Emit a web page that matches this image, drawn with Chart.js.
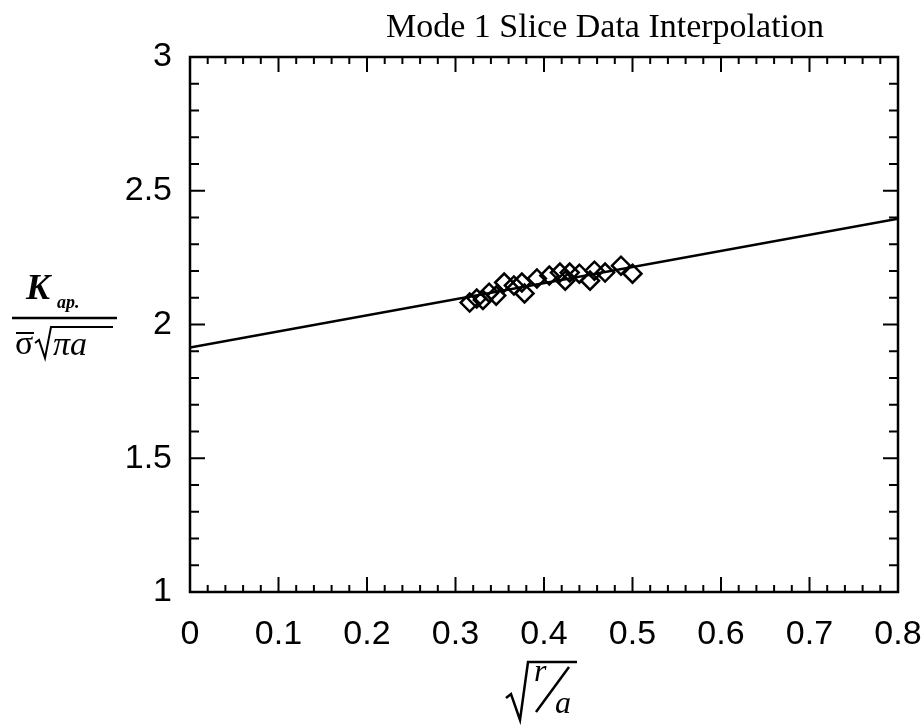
<!DOCTYPE html>
<html>
<head>
<meta charset="utf-8">
<script src="https://cdn.jsdelivr.net/npm/chart.js@4"></script>
<style>
  html, body { margin: 0; padding: 0; background: #fff; }
  #wrap { width: 922px; height: 727px; }
</style>
</head>
<body>
<div id="wrap"><canvas id="chart" width="922" height="727"></canvas></div>
<script>
// slice data points (diamonds)
const sliceX = [0.316, 0.324, 0.331, 0.338, 0.346, 0.355, 0.366, 0.378, 0.375, 0.392, 0.406, 0.418, 0.424, 0.429, 0.440, 0.452, 0.457, 0.469, 0.487, 0.500];
const sliceY = [2.082, 2.097, 2.092, 2.119, 2.108, 2.157, 2.146, 2.116, 2.157, 2.172, 2.183, 2.194, 2.164, 2.194, 2.190, 2.164, 2.201, 2.194, 2.220, 2.190];

// interpolation line
const fitX = [0, 0.8];
const fitY = [1.914, 2.395];

const xTicks = [0, 0.1, 0.2, 0.3, 0.4, 0.5, 0.6, 0.7, 0.8];
const xTickLabels = ["0", "0.1", "0.2", "0.3", "0.4", "0.5", "0.6", "0.7", "0.8"];
const yTicks = [1, 1.5, 2, 2.5, 3];
const yTickLabels = ["1", "1.5", "2", "2.5", "3"];

const titleText = "Mode 1 Slice Data Interpolation";

// frame, inward ticks and the math labels
const framePlugin = {
  id: 'frame',
  afterDraw(chart) {
    const ctx = chart.ctx;
    const a = chart.chartArea;
    const xs = chart.scales.x, ys = chart.scales.y;
    ctx.save();
    ctx.strokeStyle = '#000';
    ctx.lineWidth = 2.5;
    ctx.strokeRect(a.left, a.top, a.right - a.left, a.bottom - a.top);

    ctx.lineWidth = 2;
    ctx.beginPath();
    for (let i = 0; i <= 40; i++) {
      const v = i * 0.02;
      const px = xs.getPixelForValue(v);
      const len = (i % 5 === 0) ? 15 : 7;
      ctx.moveTo(px, a.bottom); ctx.lineTo(px, a.bottom - len);
      ctx.moveTo(px, a.top); ctx.lineTo(px, a.top + len);
    }
    for (let i = 0; i <= 20; i++) {
      const v = 1 + i * 0.1;
      const py = ys.getPixelForValue(v);
      const len = (i % 5 === 0) ? 15 : 9;
      ctx.moveTo(a.left, py); ctx.lineTo(a.left + len, py);
      ctx.moveTo(a.right, py); ctx.lineTo(a.right - len, py);
    }
    ctx.stroke();

    // title
    ctx.fillStyle = '#000';
    ctx.font = '34px "Liberation Serif", serif';
    ctx.textAlign = 'center';
    ctx.textBaseline = 'alphabetic';
    ctx.fillText(titleText, 605, 37);

    // y axis label: K_ap / (sigma-bar sqrt(pi a))
    ctx.textAlign = 'left';
    ctx.font = 'italic bold 36px "Liberation Serif", serif';
    ctx.fillText('K', 26, 299);
    ctx.font = 'italic bold 18px "Liberation Serif", serif';
    ctx.fillText('ap.', 57, 308);
    ctx.lineWidth = 2.5;
    ctx.beginPath();
    ctx.moveTo(12, 318); ctx.lineTo(117, 318);
    ctx.stroke();
    ctx.font = '34px "Liberation Serif", serif';
    ctx.fillText('\u03c3', 15, 354);
    ctx.lineWidth = 2;
    ctx.beginPath();
    ctx.moveTo(16, 333); ctx.lineTo(34, 333);
    // radical
    ctx.moveTo(35, 343); ctx.lineTo(39, 340); ctx.lineTo(45, 358);
    ctx.lineTo(51, 327); ctx.lineTo(113, 327);
    ctx.stroke();
    ctx.font = 'italic 34px "Liberation Serif", serif';
    ctx.fillText('\u03c0a', 53, 355);

    // x axis label: sqrt(r/a)
    ctx.lineWidth = 2.5;
    ctx.beginPath();
    ctx.moveTo(506, 698); ctx.lineTo(511, 694); ctx.lineTo(520, 720);
    ctx.lineTo(528, 662); ctx.lineTo(577, 662);
    ctx.moveTo(536, 712); ctx.lineTo(569, 667);
    ctx.stroke();
    ctx.font = 'italic 32px "Liberation Serif", serif';
    ctx.fillText('r', 534, 681);
    ctx.fillText('a', 555, 713);
    ctx.restore();
  }
};

new Chart(document.getElementById('chart'), {
  type: 'scatter',
  data: {
    datasets: [{
      label: 'fit',
      data: fitX.map((x, i) => ({x: x, y: fitY[i]})),
      showLine: true,
      borderColor: '#000',
      borderWidth: 2.5,
      pointRadius: 0
    }, {
      label: 'slice data',
      data: sliceX.map((x, i) => ({x: x, y: sliceY[i]})),
      pointStyle: 'rectRot',
      pointRadius: 9,
      borderColor: '#000',
      borderWidth: 2.5,
      backgroundColor: 'rgba(255,255,255,0)'
    }]
  },
  options: {
    responsive: false,
    animation: false,
    layout: { padding: { left: 0, right: 24, top: 57, bottom: 0 } },
    plugins: {
      legend: { display: false },
      tooltip: { enabled: false }
    },
    scales: {
      x: {
        type: 'linear',
        min: 0, max: 0.8,
        afterBuildTicks: s => { s.ticks = xTicks.map(v => ({value: v})); },
        afterFit: s => { s.height = 135; s.paddingLeft = 0; s.paddingRight = 0; },
        grid: { display: false, drawTicks: false },
        border: { display: false },
        ticks: {
          padding: 22,
          color: '#000',
          font: { family: '"Liberation Sans", Arial, sans-serif', size: 34 },
          callback: (v, i) => xTickLabels[i]
        }
      },
      y: {
        type: 'linear',
        min: 1, max: 3,
        afterBuildTicks: s => { s.ticks = yTicks.map(v => ({value: v})); },
        afterFit: s => { s.width = 190; s.paddingTop = 0; s.paddingBottom = 0; },
        grid: { display: false, drawTicks: false },
        border: { display: false },
        ticks: {
          padding: 18,
          color: '#000',
          font: { family: '"Liberation Sans", Arial, sans-serif', size: 34 },
          callback: (v, i) => yTickLabels[i]
        }
      }
    }
  },
  plugins: [framePlugin]
});
</script>
</body>
</html>
